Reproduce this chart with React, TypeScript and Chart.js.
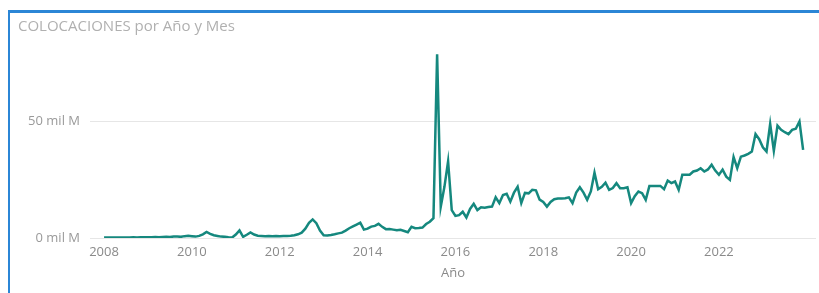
import React, { useEffect, useRef } from "react";
import { Chart, registerables } from "chart.js";

Chart.register(...registerables);

const years = [2008, 2009, 2010, 2011, 2012, 2013, 2014, 2015, 2016, 2017, 2018, 2019, 2020, 2021, 2022, 2023];

// Monthly values (mil M), Jan..Dec
const v2008 = [0.2, 0.2, 0.2, 0.2, 0.2, 0.2, 0.2, 0.2, 0.3, 0.2, 0.3, 0.3];
const v2009 = [0.3, 0.3, 0.4, 0.3, 0.4, 0.5, 0.4, 0.6, 0.6, 0.5, 0.8, 1.0];
const v2010 = [0.8, 0.6, 0.9, 1.6, 2.6, 1.8, 1.2, 0.9, 0.6, 0.5, 0.3, 0.2];
const v2011 = [1.5, 3.3, 0.5, 1.4, 2.4, 1.5, 1.0, 0.9, 0.8, 0.9, 0.8, 0.9];
const v2012 = [0.8, 0.9, 0.9, 1.0, 1.2, 1.6, 2.3, 4.0, 6.5, 8.0, 6.4, 3.2];
const v2013 = [1.2, 1.1, 1.3, 1.6, 2.0, 2.3, 3.2, 4.2, 5.0, 5.8, 6.6, 3.6];
const v2014 = [4.0, 4.9, 5.2, 6.1, 4.8, 3.8, 3.9, 3.6, 3.3, 3.5, 3.0, 2.5];
const v2015 = [4.8, 4.2, 4.3, 4.5, 6.0, 7.0, 8.5, 79, 13.5, 22, 33, 12];
const v2016 = [9.5, 9.8, 11.3, 8.8, 12.5, 14.7, 12, 13.2, 13, 13.3, 13.5, 17.5];
const v2017 = [15, 18.5, 19, 15.6, 19.5, 22, 15, 19.4, 19.2, 20.7, 20.5, 16.5];
const v2018 = [15.5, 13.5, 15.5, 16.7, 17, 17, 17.1, 17.5, 15, 19.5, 21.8, 19.5];
const v2019 = [16.4, 20, 28.1, 21, 22, 23.8, 20.7, 21.5, 23.6, 21.4, 21.4, 21.8];
const v2020 = [15, 18, 20, 19.3, 16.4, 22.4, 22.4, 22.4, 22.4, 21, 24.7, 23.6];
const v2021 = [24.3, 20.7, 27.2, 27.2, 27.2, 28.6, 29, 30, 28.6, 29.5, 31.5, 29];
const v2022 = [27.2, 29.4, 26.4, 25, 34.8, 30, 35, 35.5, 36.2, 37.2, 44.7, 42.5];
const v2023 = [39, 37.2, 49.1, 37.5, 48.3, 46.5, 45.5, 44.7, 46.5, 47, 50.1, 37.9];

const yearValues = [v2008, v2009, v2010, v2011, v2012, v2013, v2014, v2015, v2016, v2017, v2018, v2019, v2020, v2021, v2022, v2023];

const xTicks = [2008, 2010, 2012, 2014, 2016, 2018, 2020, 2022];
const yTicks = [0, 50];

const TITLE = "COLOCACIONES por Año y Mes";
const X_TITLE = "Año";
const FONT = "'Open Sans', 'DejaVu Sans', sans-serif";

export default function App() {
  const ref = useRef<HTMLCanvasElement | null>(null);

  useEffect(() => {
    if (!ref.current) return;
    const points: { x: number; y: number }[] = [];
    years.forEach((yr, i) => {
      yearValues[i].forEach((v, m) => points.push({ x: yr + m / 12, y: v }));
    });

    const chart = new Chart(ref.current, {
      type: "line",
      data: {
        datasets: [
          {
            data: points,
            borderColor: "#15887e",
            borderWidth: 2.5,
            pointRadius: 0,
            tension: 0,
            fill: false,
          },
        ],
      },
      options: {
        animation: false,
        responsive: false,
        maintainAspectRatio: false,
        layout: { padding: { left: 0, right: 3, top: 52, bottom: 0 } },
        plugins: { legend: { display: false }, tooltip: { enabled: false }, title: { display: false } },
        scales: {
          x: {
            type: "linear",
            min: 2007.68,
            max: 2024.21,
            afterBuildTicks: (axis: any) => {
              axis.ticks = xTicks.map((v) => ({ value: v }));
            },
            afterFit: (axis: any) => {
              axis.height = 55;
            },
            grid: { display: false, drawTicks: false },
            border: { display: false },
            ticks: {
              autoSkip: false,
              maxRotation: 0,
              padding: 6,
              color: "#8a8a8a",
              font: { family: FONT, size: 13 },
              callback: (v: any) => String(v),
            },
            title: {
              display: true,
              text: X_TITLE,
              color: "#8a8a8a",
              font: { family: FONT, size: 13 },
              padding: { top: 0, bottom: 12 },
            },
          },
          y: {
            type: "linear",
            min: 0,
            max: 80,
            afterBuildTicks: (axis: any) => {
              axis.ticks = yTicks.map((v) => ({ value: v }));
            },
            afterFit: (axis: any) => {
              axis.width = 90;
            },
            grid: { color: "#e6e6e6", lineWidth: 1, drawTicks: false },
            border: { display: false },
            ticks: {
              padding: 10,
              color: "#9a9a9a",
              font: { family: FONT, size: 13 },
              callback: (v: any) => `${v} mil M`,
            },
          },
        },
      },
    });
    return () => chart.destroy();
  }, []);

  return (
    <div style={{ position: "absolute", left: 0, top: 0, width: 819, height: 293, overflow: "hidden", background: "#fff" }}>
      <div
        style={{
          position: "absolute",
          left: 8,
          top: 10,
          width: 900,
          height: 400,
          borderLeft: "2px solid #2b86d6",
          borderTop: "3px solid #2b86d6",
          boxSizing: "border-box",
        }}
      />
      <canvas ref={ref} width={819} height={293} style={{ position: "absolute", left: 0, top: 0, width: 819, height: 293 }} />
      <div
        style={{
          position: "absolute",
          left: 18,
          top: 15,
          fontFamily: FONT,
          fontSize: 15,
          color: "#b0b0b0",
          whiteSpace: "nowrap",
        }}
      >
        {TITLE}
      </div>
    </div>
  );
}
